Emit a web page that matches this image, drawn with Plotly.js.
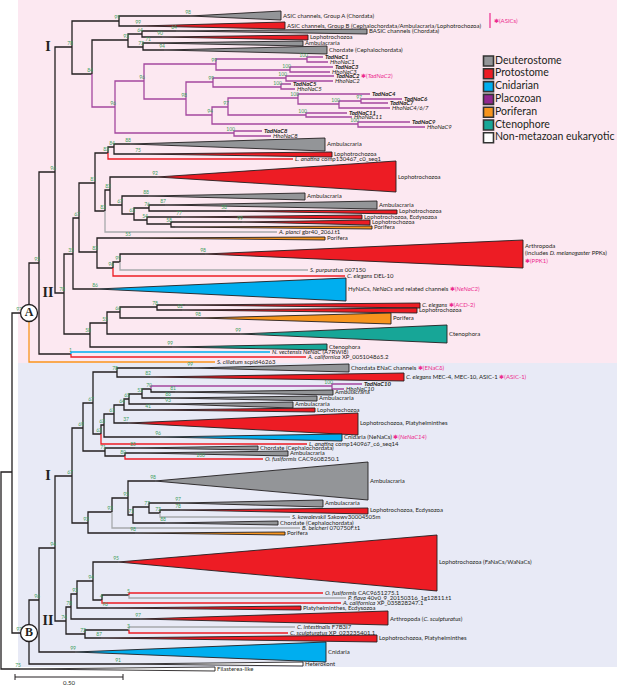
<!DOCTYPE html>
<html><head><meta charset="utf-8">
<script src="https://cdn.plot.ly/plotly-3.0.1.min.js"></script>
<style>html,body{margin:0;padding:0;background:#fff}</style>
</head><body><div id="chart" style="width:617px;height:685px"></div>
<script>
// ---------- DATA ----------
// internal nodes: [id, parent, depth(x), row(y), bootstrap, lineColour]
const internalNodes = [
 ["root","",1,570,"","k"],["N12","root",12,472,"","k"],["A","N12",29,313,"97","k"],
 ["n39","A",39,263,"95","k"],["n55","n39",55,172,"96","k"],["n72","n55",72,47,"78","k"],
 ["n119","n72",119,21,"99","k"],["n92","n72",92,74,"84","k"],["n128t","n92",128,40,"93","k"],
 ["n142t","n128t",142,34,"64","k"],["n143t","n128t",143,47,"73","k"],
 ["nM","n92",115,107,"96","m"],["n144","nM",144,81,"96","m"],["n216","n144",216,64,"99","m"],
 ["n307","n216",307,59,"100","m"],["n290","n216",290,70,"100","m"],["n186","n144",186,99,"98","m"],
 ["n213","n186",213,82,"99","m"],["n286","n213",286,78,"100","m"],["n281","n213",281,87,"100","m"],
 ["n212","n186",212,115,"94","m"],["n228","n212",228,107,"97","m"],["n298","n228",298,98,"100","m"],
 ["n339","n298",339,104,"100","m"],["n361","n339",361,101,"97","m"],["n306","n228",306,115,"100","m"],
 ["n358","n212",358,124,"100","m"],["n234","nM",234,133,"100","m"],
 ["n64","n55",64,293,"78","k"],["n73","n64",73,254,"35","k"],["n79","n73",79,218,"67","k"],
 ["n95","n79",95,183,"81","k"],["n108","n95",108,153,"83","k"],["n114p","n108",114,147,"84","k"],
 ["n105","n95",105,211,"82","k"],["n110","n105",110,190,"82","k"],["n122","n110",122,205,"67","k"],
 ["n135","n122",134,214,"63","k"],["n148","n135",149,208,"76","k"],["n147b","n135",147,220,"54","k"],
 ["n171","n147b",171,224,"58","k"],["n97","n79",97,252,"83","k"],["n113","n97",113,268,"96","k"],
 ["n120","n113",120,262,"99","k"],["n90","n64",90,334,"58","k"],["n107","n90",107,323,"55","k"],
 ["n120c","n107",120,312,"66","k"],["n157c","n120c",157,307,"78","k"],["nNv","n39",71,354,"1","k"],
 ["B","N12",29,633,"97","k"],["nB39","B",39,600,"96","k"],["nB55","nB39",55,548,"94","k"],
 ["CI","nB55",72,476,"67","k"],["n83","CI",83,428,"69","k"],["n93","n83",93,403,"67","k"],
 ["n117","n93",117,372,"78","k"],["n101","n93",101,434,"62","k"],["n104","n101",104,425,"63","k"],
 ["n114","n104",114,414,"61","k"],["n124","n114",124,405,"64","k"],["n129","n124",129,399,"65","k"],
 ["n142","n129",142,394,"52","k"],["n151","n142",151,389,"70","k"],["n332","n151",332,386,"100","m"],
 ["n105b","n83",105,451,"71","k"],["n125","n105b",125,456,"80","k"],["n88","CI",88,523,"93","k"],
 ["n112","n88",112,512,"93","k"],["n128","n112",128,498,"95","k"],["n133","n128",133,515,"71","k"],
 ["n149","n133",149,507,"77","k"],["n160","n149",160,513,"73","k"],
 ["CII","nB55",66,621,"74","k"],["n71","CII",71,607,"78","k"],["n77","n71",77,594,"92","k"],
 ["n93b","n77",93,581,"94","k"],["n102","n93b",102,600,"4","k"],["n129b","n102",129,595,"5","k"],
 ["n85","CII",85,634,"73","k"],["n129c","n85",129,630,"3","k"]
];
// single sequences: [parent, tip depth, row, lineColour, label, bootstrap, bootstrap depth]
const leaves = [
 ["n307",323,57,"m","<b><i>TadNaC1</i></b>"],["n307",328,62,"m","<i>HhoNaC1</i>"],
 ["n290",333,67,"m","<b><i>TadNaC3</i></b>"],["n290",330,72,"m","<i>HhoNaC3</i>"],
 ["n286",334,76,"m","<b><i>TadNaC2</i></b> <span style='color:#ec2a8f'>✱(<i>TadNaC2</i>)</span>"],
 ["n286",333,81,"m","<i>HhoNaC2</i>"],
 ["n281",291,84,"m","<b><i>TadNaC5</i></b>"],["n281",295,89,"m","<i>HhoNaC5</i>"],
 ["n298",370,94,"m","<b><i>TadNaC4</i></b>"],["n361",402,99,"m","<b><i>TadNaC6</i></b>"],
 ["n361",388,103,"m","<b><i>TadNaC7</i></b>"],["n339",390,108,"m","<i>HhoNaC4/6/7</i>"],
 ["n306",347,113,"m","<b><i>TadNaC11</i></b>"],["n306",352,117,"m","<i>HhoNaC11</i>"],
 ["n358",410,122,"m","<b><i>TadNaC9</i></b>"],["n358",425,127,"m","<i>HhoNaC9</i>"],
 ["n234",262,131,"m","<b><i>TadNaC8</i></b>"],["n234",271,136,"m","<i>HhoNaC8</i>"],
 ["n108",293,159,"r","<i>L. anatina</i> comp130467_c0_seq1"],
 ["n105",277,232,"g","<i>A. planci</i> gbr40_206J.t1"],
 ["n120",308,270,"g","<i>S. purpuratus</i> 007150"],
 ["n113",345,276,"r","<i>C. elegans</i> DEL-10"],
 ["nNv",270,352,"b","<i>N. vectensis NeNaC</i> (A7RWI8)"],
 ["nNv",306,357,"r","<i>A. californica</i> XP_005104865.2"],
 ["A",215,362,"o","<i>S. ciliatum</i> scpid46263"],
 ["n332",362,384,"m","<b><i>TadNaC10</i></b>"],["n332",344,389,"m","<i>HhoNaC10</i>"],
 ["n101",307,444,"r","<i>L. anatina</i> comp140967_c6_seq14"],
 ["n125",263,459,"r","<i>O. fusiformis</i> CAC9608250.1","100",205],
 ["n160",290,517,"g","<i>S. kowalevskii</i> Sakowv30004505m"],
 ["n112",300,528,"g","<i>B. belcheri</i> 070750F.t1"],
 ["n129b",323,593,"r","<i>O. fusiformis</i> CAC9651275.1"],
 ["n129b",346,598,"g","<i>P. flava</i> 40v0_9_20150316_1g12811.t1"],
 ["n102",341,603,"r","<i>A. californica</i> XP_035828247.1"],
 ["n129c",295,627,"g","<i>C. intestinalis</i> F7B3I7"],
 ["n129c",288,633,"r","<i>C. sculpturatus</i> XP_023235401.1"]
];
// collapsed clades: [parent, apex depth, tip depth, row, top, bottom, group, bootstrap, label]
const clades = [
 ["n119",190,281,16,11,20,"D","98","ASIC channels, Group A (Chordata)"],
 ["n119",140,285,26,22,29,"P","99","ASIC channels, Group B (Cephalochordata/Ambulacraria/Lophotrochozoa)"],
 ["n142t",176,367,31,29,34,"D","64","BASIC channels (Chordata)"],
 ["n142t",162,308,37,35,40,"P","90","Lophotrochozoa"],
 ["n143t",150,303,43,41,46,"D","71","Ambulacraria"],
 ["n143t",164,327,50,46,54,"D","94","Chordate (Cephalochordata)"],
 ["n114p",130,325,144,138,151,"D","88","Ambulacraria"],
 ["n114p",140,332,154,152,157,"P","75","Lophotrochozoa"],
 ["n110",157,396,177,161,192,"P","92","Lophotrochozoa"],
 ["n122",148,305,196,193,200,"D","88","Ambulacraria"],
 ["n148",165,377,205,201,209,"D","87","Ambulacraria"],
 ["n148",226,397,211,210,214,"P","58","Lophotrochozoa"],
 ["n147b",181,362,217,215,219,"P","77","Lophotrochozoa, Ecdysozoa"],
 ["n171",242,370,222,220,225,"P","99","Lophotrochozoa"],
 ["n171",175,372,227,226,229,"O","","Porifera"],
 ["n97",130,325,238,237,240,"O","55","Porifera"],
 ["n120",205,523,254,240,268,"P","98","Arthropoda<br>(includes <i>D. melanogaster</i> PPKs)<br><span style='color:#ec2a8f'>✱(PPK1)</span>"],
 ["n73",97,346,289,278,301,"C","86","HyNaCs, <i>NeNaCs</i> and related channels <span style='color:#ec2a8f'>✱(<i>NeNaC2</i>)</span>"],
 ["n157c",185,420,305,303,308,"P","","<i>C. elegans</i> <span style='color:#ec2a8f'>✱(ACD-2)</span>"],
 ["n157c",182,417,310,308,313,"P","62","Lophotrochozoa"],
 ["n120c",200,391,318,313,324,"O","98","Porifera"],
 ["n107",240,447,334,325,343,"T","99","Ctenophora"],
 ["n90",172,327,347,344,350,"T","99","Ctenophora"],
 ["n117",192,349,368,364,372,"D","99","Chordata ENaC channels <span style='color:#ec2a8f'>✱(ENaCδ)</span>"],
 ["n117",150,404,377,373,381,"P","82","<i>C. elegans</i> MEC-4, MEC-10, ASIC-1 <span style='color:#ec2a8f'>✱(ASIC-1)</span>"],
 ["n151",175,333,392,390,395,"D","81","Ambulacraria"],
 ["n142",170,317,398,396,401,"D","86","Ambulacraria"],
 ["n129",170,293,404,402,408,"D","93","Ambulacraria"],
 ["n124",150,315,410,408,412,"P","41","Lophotrochozoa"],
 ["n114",128,358,423,413,435,"P","37","Lophotrochozoa, Platyhelminthes"],
 ["n104",160,342,437,434,441,"C","96","Cnidaria (NeNaCs) <span style='color:#ec2a8f'>✱(<i>NeNaC14</i>)</span>"],
 ["n105b",135,258,448,446,450,"D","85","Chordate (Cephalochordata)"],
 ["n125",140,288,453,451,456,"D","","Ambulacraria"],
 ["n128",155,368,481,462,500,"D","98","Ambulacraria"],
 ["n149",180,323,503,500,507,"D","97","Ambulacraria"],
 ["n160",180,368,510,508,514,"P","78","Lophotrochozoa, Ecdysozoa"],
 ["n133",165,278,523,521,525,"D","88","Chordate (Cephalochordata)"],
 ["n88",135,285,533,532,535,"O","98","Porifera"],
 ["n93b",118,437,562,535,591,"P","95","Lophotrochozoa (FaNaCs/WaNaCs)"],
 ["n77",107,301,608,606,610,"P","96","Platyhelminthes, Ecdysozoa"],
 ["n71",140,388,619,611,625,"P","97","Arthropoda (<i>C. sculpturatus</i>)"],
 ["n85",101,377,638,635,642,"P","87","Lophotrochozoa, Platyhelminthes"],
 ["nB39",75,326,652,642,662,"C","99","Cnidaria"],
 ["B",120,303,664,662,666,"W","91","Heterokont"],
 ["root",20,215,669,667,671,"W","75","Filasterea-like"]
];
const cladeLabels = [["n72","I"],["n64","II"],["CI","I"],["CII","II"]];
const circleNodes = ["A","B"];
const legendGroups = ["D","P","C","L","O","T","W"];
const legendNames = ["Deuterostome","Protostome","Cnidarian","Placozoan","Poriferan","Ctenophore","Non-metazoan eukaryotic"];
const scaleValue = 0.50, pxPerUnit = 216;

// ---------- STYLE ----------
const LC = {k:'#231f20', m:'#a4479f', r:'#ed1c24', g:'#a7a9ac', b:'#00aeef', o:'#f7941d'};
const GC = {D:'#939598', P:'#ed1c24', C:'#00aeef', L:'#92278f', O:'#f7941d', T:'#17a697', W:'#ffffff'};
const FONT = "Lato, 'Open Sans', sans-serif";
const BSCOL = '#3f9f5f';

const pos = {}, parentOf = {};
internalNodes.forEach(n => { pos[n[0]] = {x:n[2], y:n[3]}; parentOf[n[0]] = n[1]; });

const segs = {};
function addSeg(col, xs, ys){
  if(!segs[col]) segs[col] = {x:[], y:[]};
  segs[col].x.push(...xs, null); segs[col].y.push(...ys, null);
}
internalNodes.forEach(n => { if(!n[1]) return; const p = pos[n[1]];
  addSeg(n[5], [p.x,p.x,n[2]], [p.y,n[3],n[3]]); });
clades.forEach(c => { const p = pos[c[0]];
  addSeg('k', [p.x,p.x,c[1]], [p.y,c[3],c[3]]); });
leaves.forEach(l => { const p = pos[l[0]];
  addSeg(l[3], [p.x,p.x,l[1]], [p.y,l[2],l[2]]); });

const traces = [];
['k','m','r','g','b','o'].forEach(col => { if(!segs[col]) return;
  traces.push({type:'scatter', mode:'lines', x:segs[col].x, y:segs[col].y,
    line:{color:LC[col], width:1.3}, hoverinfo:'skip', cliponaxis:false});
});
clades.forEach(c => {
  traces.push({type:'scatter', mode:'lines', x:[c[1],c[2],c[2],c[1]], y:[c[3],c[4],c[5],c[3]],
    fill:'toself', fillcolor:GC[c[6]], line:{color:'#231f20', width:0.9}, hoverinfo:'skip'});
});
// labels
const lx=[], ly=[], lt=[];
clades.forEach(c => { lx.push(c[2]+2); ly.push(c[3]); lt.push(c[8]); });
leaves.forEach(l => { lx.push(l[1]+2); ly.push(l[2]); lt.push(l[4]); });
traces.push({type:'scatter', mode:'text', x:lx, y:ly, text:lt, textposition:'middle right',
  textfont:{family:FONT, size:6, color:'#231f20'}, hoverinfo:'skip', cliponaxis:false});
// bootstrap values (circled nodes get theirs left of the circle)
const bx=[], by=[], bt=[];
internalNodes.forEach(n => { if(n[4]){
  const shift = circleNodes.includes(n[0]) ? -7 : 1;
  bx.push(n[2]+shift); by.push(n[3]-0.5); bt.push(n[4]); }});
clades.forEach(c => { if(c[7]){ bx.push(c[1]+1); by.push(c[3]-0.5); bt.push(c[7]); }});
leaves.forEach(l => { if(l[5]){ bx.push(l[6]); by.push(l[2]-0.5); bt.push(l[5]); }});
traces.push({type:'scatter', mode:'text', x:bx, y:by, text:bt, textposition:'top left',
  textfont:{family:FONT, size:5, color:BSCOL}, hoverinfo:'skip', cliponaxis:false});
// clade I / II labels, left of the parent's vertical
traces.push({type:'scatter', mode:'text', x:cladeLabels.map(c=>pos[parentOf[c[0]]].x-7),
  y:cladeLabels.map(c=>pos[c[0]].y), text:cladeLabels.map(c=>c[1]), textposition:'middle center',
  textfont:{family:"'Liberation Serif', serif", size:14, color:'#231f20', weight:'bold'}, hoverinfo:'skip'});
// circles
traces.push({type:'scatter', mode:'markers+text', x:circleNodes.map(n=>pos[n].x), y:circleNodes.map(n=>pos[n].y),
  text:circleNodes, textposition:'middle center',
  marker:{size:17, color:'#ffffff', line:{color:'#231f20', width:1.3}},
  textfont:{family:"'Liberation Serif', serif", size:12, color:'#231f20', weight:'bold'}, hoverinfo:'skip'});
// legend
traces.push({type:'scatter', mode:'markers', x:legendGroups.map(()=>488.5), y:legendGroups.map((g,i)=>61+i*12.8),
  marker:{symbol:'square', size:10, color:legendGroups.map(g=>GC[g]), line:{color:'#333', width:1.6}}, hoverinfo:'skip'});
traces.push({type:'scatter', mode:'text', x:legendNames.map(()=>495), y:legendNames.map((g,i)=>61+i*12.8),
  text:legendNames, textposition:'middle right', textfont:{family:FONT, size:10.5, color:'#231f20'}, hoverinfo:'skip', cliponaxis:false});
// scale bar
const sb0 = 15, sb1 = sb0 + scaleValue*pxPerUnit;
traces.push({type:'scatter', mode:'lines', x:[sb0,sb0,null,sb0,sb1,null,sb1,sb1], y:[674,680,null,677,677,null,674,680],
  line:{color:'#231f20', width:1}, hoverinfo:'skip'});
traces.push({type:'scatter', mode:'text', x:[(sb0+sb1)/2], y:[683], text:[scaleValue.toFixed(2)], textposition:'middle center',
  textfont:{family:FONT, size:6, color:'#231f20'}, hoverinfo:'skip', cliponaxis:false});

const layout = {
  width:617, height:685, margin:{l:0,r:0,t:0,b:0}, showlegend:false,
  paper_bgcolor:'#ffffff', plot_bgcolor:'#ffffff',
  xaxis:{range:[0,617], visible:false, fixedrange:true},
  yaxis:{range:[685,0], visible:false, fixedrange:true},
  shapes:[
    {type:'rect', xref:'x', yref:'y', x0:18, x1:617, y0:0, y1:363, fillcolor:'#fce8f1', line:{width:0}, layer:'below'},
    {type:'rect', xref:'x', yref:'y', x0:18, x1:617, y0:363, y1:667, fillcolor:'#e8eaf6', line:{width:0}, layer:'below'},
    {type:'line', xref:'x', yref:'y', x0:490, x1:490, y0:13, y1:28, line:{color:'#ec2a8f', width:1.2}}
  ],
  annotations:[{x:492, y:20.5, xref:'x', yref:'y', text:'✱(ASICs)', showarrow:false, xanchor:'left',
    font:{family:FONT, size:6, color:'#ec2a8f'}}]
};
Plotly.newPlot('chart', traces, layout, {displayModeBar:false, staticPlot:true});
</script></body></html>
